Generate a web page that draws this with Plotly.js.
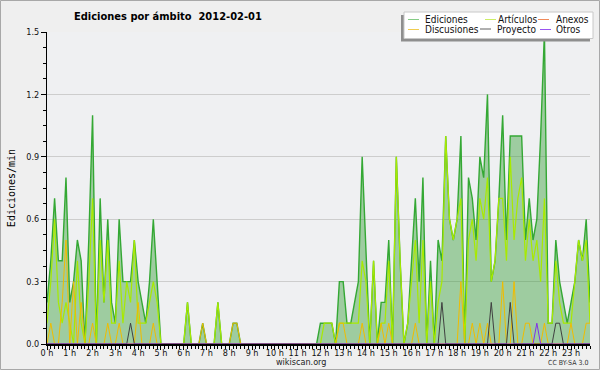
<!DOCTYPE html>
<html>
<head>
<meta charset="utf-8">
<script src="https://cdn.plot.ly/plotly-3.0.1.min.js"></script>
<style>
html,body{margin:0;padding:0;background:#efefef;}
#chart{width:600px;height:370px;}
</style>
</head>
<body>
<div id="chart"></div>
<script>
// ---- tick labels (hours) ----
const hourTicks = [0,1,2,3,4,5,6,7,8,9,10,11,12,13,14,15,16,17,18,19,20,21,22,23];
const hourLabels = ['0 h','1 h','2 h','3 h','4 h','5 h','6 h','7 h','8 h','9 h','10 h','11 h',
                    '12 h','13 h','14 h','15 h','16 h','17 h','18 h','19 h','20 h','21 h','22 h','23 h'];

// ---- series: edits per minute, one value per 10-minute slot (6 per row = 1 hour) ----
const ediciones = [
0.2,0.4,0.7,0.4,0.4,0.8,
0.2,0.3,0.5,0.4,0.0,0.5,
1.1,0.0,0.7,0.2,0.6,0.2,
0.1,0.6,0.3,0.3,0.3,0.5,
0.3,0.2,0.1,0.3,0.6,0.3,
0,0,0,0,0,0,
0,0.2,0,0,0,0.1,
0,0,0,0.2,0,0,
0,0.1,0.1,0,0,0,
0,0,0,0,0,0,
0,0,0,0,0,0,
0,0,0,0,0,0,
0.1,0.1,0.1,0.1,0.0,0.3,
0.3,0.1,0.1,0.2,0.3,0.9,
0.4,0.0,0.4,0.0,0.2,0.2,
0.5,0.0,0.9,0.4,0.0,0.1,
0.4,0.7,0.3,0.8,0.0,0.4,
0.0,0.5,0.4,1.0,0.6,0.5,
0.6,1.0,0.0,0.8,0.7,0.5,
0.9,0.8,1.2,0.3,0.4,0.7,
1.1,0.5,1.0,1.0,1.0,1.0,
0.5,0.7,0.5,0.6,1.0,1.5,
0.1,0.1,0.5,0.3,0.2,0.1,
0.2,0.3,0.5,0.4,0.6,0.2
];
const articulos = [
0.1,0.3,0.6,0.2,0.1,0.2,
0.1,0.0,0.4,0.1,0.0,0.3,
0.7,0.0,0.5,0.2,0.5,0.1,
0.1,0.4,0.1,0.3,0.2,0.5,
0.1,0.1,0.1,0.2,0.3,0.2,
0,0,0,0,0,0,
0,0.2,0,0,0,0,
0,0,0,0.2,0,0,
0,0,0,0,0,0,
0,0,0,0,0,0,
0,0,0,0,0,0,
0,0,0,0,0,0,
0.0,0.1,0.1,0.1,0.0,0.1,
0.1,0.1,0.1,0.1,0.1,0.4,
0.3,0.0,0.4,0.0,0.1,0.1,
0.4,0.0,0.9,0.4,0.0,0.1,
0.3,0.5,0.1,0.5,0.0,0.3,
0.0,0.2,0.3,1.0,0.6,0.5,
0.6,0.7,0.0,0.5,0.6,0.4,
0.7,0.6,0.8,0.3,0.4,0.7,
0.7,0.4,0.9,0.5,0.7,0.8,
0.4,0.6,0.4,0.5,0.3,0.7,
0.1,0.1,0.4,0.2,0.1,0.1,
0.1,0.3,0.5,0.4,0.5,0.1
];
const discusiones = [
0.0,0.1,0.0,0.0,0.2,0.5,
0.0,0.3,0.0,0.2,0.0,0.0,
0.1,0.0,0.0,0.0,0.1,0.0,
0.0,0.1,0.0,0.0,0.0,0.0,
0.2,0.0,0.0,0.0,0.1,0.0,
0,0,0,0,0,0,
0,0,0,0,0,0.1,
0,0,0,0,0,0,
0,0.1,0.1,0,0,0,
0,0,0,0,0,0,
0,0,0,0,0,0,
0,0,0,0,0,0,
0,0,0,0,0,0.1,
0.1,0,0,0,0,0.1,
0,0,0,0,0.1,0,
0.1,0,0,0,0,0,
0,0.1,0,0,0,0,
0,0,0,0,0,0,
0,0.3,0,0,0.1,0,
0.1,0,0.1,0,0,0,
0.3,0,0,0.3,0,0,
0.1,0.1,0,0,0,0.1,
0,0,0,0,0,0,
0.1,0,0,0,0.1,0.1
];
const anexos = [
0,0,0,0,0,0, 0,0,0,0,0,0, 0,0,0,0,0,0, 0,0,0,0,0,0,
0,0,0,0,0,0, 0,0,0,0,0,0, 0,0,0,0,0,0, 0,0,0,0,0,0,
0,0,0,0,0,0, 0,0,0,0,0,0, 0,0,0,0,0,0, 0,0,0,0,0,0,
0,0,0,0,0,0, 0,0,0,0,0,0, 0,0,0,0,0,0, 0,0,0,0,0,0,
0,0,0,0,0,0, 0,0,0,0,0,0, 0,0,0,0,0,0, 0,0,0,0,0,0,
0,0,0,0,0,0, 0,0,0,0,0,0, 0,0,0,0,0,0, 0,0,0,0,0,0
];
const proyecto = [
0,0,0,0,0,0, 0,0,0,0,0,0, 0,0,0,0,0,0, 0,0,0,0,0.1,0,
0,0,0,0,0,0, 0,0,0,0,0,0, 0,0,0,0,0,0, 0,0,0,0,0,0,
0,0,0,0,0,0, 0,0,0,0,0,0, 0,0,0,0,0,0, 0,0,0,0,0,0,
0,0,0,0,0,0, 0,0,0,0,0,0, 0,0,0,0,0,0, 0,0,0,0,0,0,
0,0,0,0,0,0, 0,0,0.2,0,0,0, 0,0,0,0,0,0, 0,0,0,0.2,0,0,
0,0,0.2,0,0,0, 0,0,0,0,0,0, 0,0,0.1,0.1,0,0, 0,0,0,0,0,0
];
const otros = [
0,0,0,0,0,0, 0,0,0,0,0,0, 0,0,0,0,0,0, 0,0,0,0,0,0,
0,0,0,0,0,0, 0,0,0,0,0,0, 0,0,0,0,0,0, 0,0,0,0,0,0,
0,0,0,0,0,0, 0,0,0,0,0,0, 0,0,0,0,0,0, 0,0,0,0,0,0,
0,0,0,0,0,0, 0,0,0,0,0,0, 0,0,0,0,0,0, 0,0,0,0,0,0,
0,0,0,0,0,0, 0,0,0,0,0,0, 0,0,0,0,0,0, 0,0,0,0,0,0,
0,0,0,0,0,0, 0,0,0,0.1,0,0, 0,0,0,0,0,0, 0,0,0,0,0,0
];
const seriesNames = ['Ediciones','Artículos','Anexos','Discusiones','Proyecto','Otros'];

// time of each 10-minute slot, in hours
const slotHours = ediciones.map((_, k) => k / 6);

// ---- styling ----
const FONT = "'DejaVu Sans Condensed', 'DejaVu Sans', sans-serif";
const C = {
  ed: '#34a834', edFill: 'rgba(60,160,60,0.45)',
  art: '#a8ea00', anx: '#f07840', dis: '#f0bc00', pro: '#404040', otr: '#8030e8'
};
const L = 47, R = 10, T = 32, B = 26, W = 600, H = 370;
const PW = W - L - R, PH = H - T - B;
const X = px => (px - L) / PW;
const Y = py => (H - B - py) / PH;

function line(y, name, color, width, extra) {
  return Object.assign({
    type: 'scatter', mode: 'lines', x: slotHours, y: y, name: name,
    line: {color: color, width: width}, showlegend: false, hoverinfo: 'skip'
  }, extra || {});
}

const traces = [
  line(ediciones, seriesNames[0], C.ed, 1.4, {fill: 'tozeroy', fillcolor: C.edFill}),
  line(articulos, seriesNames[1], C.art, 1.2),
  line(anexos, seriesNames[2], C.anx, 1),
  line(discusiones, seriesNames[3], C.dis, 1),
  line(proyecto, seriesNames[4], C.pro, 1),
  line(otros, seriesNames[5], C.otr, 1)
];

// ---- hand-drawn legend box (3 columns x 2 rows) ----
const legendItems = [
  {name: seriesNames[0], color: '#86cc86', lx: 408, tx: 424, py: 19.5},
  {name: seriesNames[1], color: '#cdee66', lx: 485, tx: 496.5, py: 19.5},
  {name: seriesNames[2], color: '#f08a5a', lx: 538, tx: 555, py: 19.5},
  {name: seriesNames[3], color: '#f0cc50', lx: 408, tx: 424, py: 29.5},
  {name: seriesNames[4], color: '#606060', lx: 480, tx: 495.5, py: 29.0},
  {name: seriesNames[5], color: '#9a55f0', lx: 540, tx: 555, py: 29.5}
];

const shapes = [
  // outer frame
  {type: 'rect', xref: 'paper', yref: 'paper', x0: X(0.5), x1: X(599.5), y0: Y(369.5), y1: Y(0.5),
   line: {color: '#a8a8a8', width: 1}, fillcolor: 'rgba(0,0,0,0)', layer: 'below'},
  // legend shadow
  {type: 'rect', xref: 'paper', yref: 'paper', x0: X(401), x1: X(590), y0: Y(41.5), y1: Y(15),
   line: {width: 0}, fillcolor: '#8e8e8e', layer: 'above'},
  // legend box
  {type: 'rect', xref: 'paper', yref: 'paper', x0: X(404), x1: X(593), y0: Y(38.5), y1: Y(12),
   line: {color: '#c8c8c8', width: 1}, fillcolor: '#ffffff', layer: 'above'}
];
legendItems.forEach(it => shapes.push({
  type: 'line', xref: 'paper', yref: 'paper', x0: X(it.lx), x1: X(it.lx + 11),
  y0: Y(it.py), y1: Y(it.py), line: {color: it.color, width: 1}, layer: 'above'
}));

const annotations = legendItems.map(it => ({
  text: it.name, xref: 'paper', yref: 'paper', x: X(it.tx - 1), y: Y(it.py),
  xanchor: 'left', yanchor: 'middle', showarrow: false,
  font: {family: FONT, size: 10, color: '#111'}
}));
annotations.push({
  text: 'wikiscan.org', xref: 'paper', yref: 'paper', x: X(300.5), y: Y(361.5),
  xanchor: 'center', yanchor: 'middle', showarrow: false,
  font: {family: FONT, size: 9, color: '#222'}
});
annotations.push({
  text: 'CC BY-SA 3.0', xref: 'paper', yref: 'paper', x: X(590), y: Y(363),
  xanchor: 'right', yanchor: 'middle', showarrow: false,
  font: {family: FONT, size: 7, color: '#333'}
});

const layout = {
  width: W, height: H,
  margin: {l: L, r: R, t: T, b: B, pad: 0},
  paper_bgcolor: '#efefef', plot_bgcolor: '#eff0f2',
  title: {
    text: 'Ediciones por ámbito\u00a0 2012-02-01',
    x: 74 / W, xref: 'container', xanchor: 'left',
    y: 1 - 16 / H, yref: 'container', yanchor: 'middle',
    font: {family: FONT, size: 11, color: '#000', weight: 'bold'}
  },
  xaxis: {
    range: [0, slotHours[slotHours.length - 1]],
    tickvals: hourTicks, ticktext: hourLabels,
    ticks: 'outside', ticklen: 4, tickwidth: 1, tickcolor: '#000',
    minor: {dtick: 1 / 6, tick0: 0, ticks: 'outside', ticklen: 3, tickcolor: '#000', showgrid: false},
    showline: true, linecolor: '#000', linewidth: 1.5,
    showgrid: false, zeroline: false, fixedrange: true,
    ticklabelstandoff: -4,
    tickfont: {family: FONT, size: 9, color: '#111'}, automargin: false
  },
  yaxis: {
    range: [0, 1.5], dtick: 0.3, tick0: 0, tickformat: '.1f',
    ticks: 'outside', ticklen: 5, tickwidth: 1, tickcolor: '#000',
    minor: {dtick: 0.075, tick0: 0, ticks: 'outside', ticklen: 3, tickcolor: '#000', showgrid: false},
    showline: true, linecolor: '#000', linewidth: 1,
    showgrid: true, gridcolor: '#cdcdcd', gridwidth: 1, zeroline: false, fixedrange: true,
    tickfont: {family: FONT, size: 9, color: '#111'}, automargin: false,
    title: {text: 'Ediciones/min', font: {family: "'DejaVu Sans Mono', monospace", size: 10, color: '#000'}, standoff: 8}
  },
  showlegend: false,
  shapes: shapes,
  annotations: annotations
};

Plotly.newPlot('chart', traces, layout, {staticPlot: true, displayModeBar: false});
</script>
</body>
</html>
